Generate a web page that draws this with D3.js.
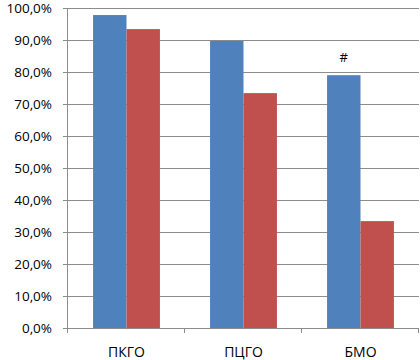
<!DOCTYPE html>
<html>
<head>
<meta charset="utf-8">
<script src="https://cdn.jsdelivr.net/npm/d3@7"></script>
<style>
  body { margin: 0; background: #fff; }
  text { font-family: "Open Sans", "Liberation Sans", sans-serif; fill: #000; }
</style>
</head>
<body>
<div id="main"></div>
<script>
const ctx = { w: 420, h: 360 };
const margin = { left: 68, right: 1, top: 8, bottom: 32 };

const categories = ["ПКГО", "ПЦГО", "БМО"];
const seriesBlue = [0.978, 0.897, 0.790];
const seriesRed = [0.934, 0.734, 0.334];
const notes = ["", "", "#"];
const yTicks = [0, 0.1, 0.2, 0.3, 0.4, 0.5, 0.6, 0.7, 0.8, 0.9, 1.0];

const colors = ["#4f81bd", "#c0504d"];

function createChart(svg) {
  const iw = ctx.w - margin.left - margin.right;
  const ih = ctx.h - margin.top - margin.bottom;
  const g = svg.append("g").attr("transform", `translate(${margin.left},${margin.top})`);

  const x = d3.scaleBand().domain(categories).range([0, iw]).paddingInner(0).paddingOuter(0);
  const x1 = d3.scaleBand().domain([0, 1]).range([0, x.bandwidth()]).paddingInner(0).paddingOuter(0.75);
  const y = d3.scaleLinear().domain([0, 1]).range([ih, 0]);

  const fmt = v => (v * 100).toFixed(1).replace(".", ",") + "%";

  // gridlines
  g.selectAll(".grid").data(yTicks.slice(1)).enter().append("line")
    .attr("x1", 0).attr("x2", iw)
    .attr("y1", d => Math.round(y(d)) + 0.5).attr("y2", d => Math.round(y(d)) + 0.5)
    .style("stroke", "#8c8c8c").style("stroke-width", 1);

  // y axis
  const yAxis = g.append("g").call(d3.axisLeft(y).tickValues(yTicks).tickFormat(fmt).tickSize(5).tickPadding(11));
  yAxis.select(".domain").style("stroke", "#8c8c8c").attr("d", `M-0.5,${ih}V0`);
  yAxis.selectAll(".tick line").style("stroke", "#8c8c8c");
  yAxis.selectAll("text")
    .style("font-size", "13.5px")
    .style("font-family", "Open Sans, Liberation Sans, sans-serif");

  // bars
  const groups = g.selectAll(".grp").data(categories).enter().append("g")
    .attr("transform", d => `translate(${x(d)},0)`);
  groups.append("rect")
    .attr("x", x1(0)).attr("width", x1.bandwidth())
    .attr("y", (d, i) => y(seriesBlue[i])).attr("height", (d, i) => ih - y(seriesBlue[i]))
    .style("fill", colors[0]);
  groups.append("rect")
    .attr("x", x1(1)).attr("width", x1.bandwidth())
    .attr("y", (d, i) => y(seriesRed[i])).attr("height", (d, i) => ih - y(seriesRed[i]))
    .style("fill", colors[1]);
  groups.append("text")
    .attr("x", x1(0) + x1.bandwidth() / 2)
    .attr("y", (d, i) => y(seriesBlue[i]) - 13)
    .attr("text-anchor", "middle")
    .style("font-size", "13px")
    .text((d, i) => notes[i]);

  // x axis
  const xAxisG = g.append("g").attr("transform", `translate(0,${ih})`);
  xAxisG.append("line").attr("x1", -0.5).attr("x2", iw).attr("y1", 0.5).attr("y2", 0.5)
    .style("stroke", "#8c8c8c");
  const bounds = [0].concat(categories.map(c => x(c) + x.bandwidth()));
  xAxisG.selectAll(".xt").data(bounds).enter().append("line")
    .attr("x1", d => Math.round(d) - 0.5).attr("x2", d => Math.round(d) - 0.5)
    .attr("y1", 0).attr("y2", 5)
    .style("stroke", "#8c8c8c");
  xAxisG.selectAll(".xl").data(categories).enter().append("text")
    .attr("x", d => x(d) + x.bandwidth() / 2)
    .attr("y", 29)
    .attr("text-anchor", "middle")
    .style("font-size", "14px")
    .text(d => d);
}

function createViz() {
  const svgEl = d3.select("#main").append("svg")
    .attr("width", ctx.w).attr("height", ctx.h);
  createChart(svgEl);
}
createViz();
</script>
</body>
</html>
